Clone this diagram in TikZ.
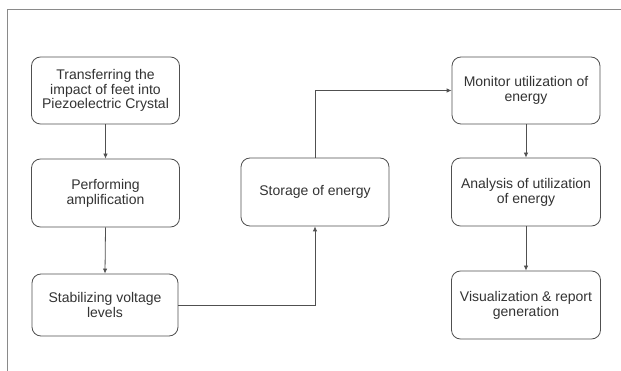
\documentclass[tikz,border=0pt]{standalone}
\usepackage{fontspec}
\setmainfont{Liberation Sans}
\usetikzlibrary{arrows.meta}
\definecolor{txt}{HTML}{333333}
\definecolor{ln}{HTML}{505050}
\definecolor{frm}{HTML}{8A8A8A}
\begin{document}
\begin{tikzpicture}[x=1pt,y=-1pt,
  box/.style={draw=ln, line width=0.8pt, rounded corners=9pt, align=center,
    text=txt, font=\fontsize{14}{14.8}\selectfont, inner sep=0pt},
  conn/.style={draw=ln, line width=0.8pt, -{Latex[length=5pt,width=4.5pt]}}]
\useasboundingbox (0,0) rectangle (621,371);
\fill[white] (0,0) rectangle (621,371);
\draw[frm, line width=1pt] (7,371) -- (7,9.5) -- (621,9.5);
\node[box, minimum width=148pt, minimum height=67pt] (b1) at (105.5,90.5)
  {Transferring the\\impact of feet into\\Piezoelectric Crystal};
\node[box, minimum width=148pt, minimum height=68pt] (b2) at (105.5,193)
  {Performing\\amplification};
\node[box, minimum width=146pt, minimum height=62pt] (b3) at (105,305)
  {Stabilizing voltage\\levels};
\node[box, minimum width=148pt, minimum height=68pt] (s) at (315,192)
  {Storage of energy};
\node[box, minimum width=148pt, minimum height=67pt] (m) at (526,90.5)
  {Monitor utilization of\\energy};
\node[box, minimum width=149pt, minimum height=68pt] (a) at (526,192)
  {Analysis of utilization\\of energy};
\node[box, minimum width=149pt, minimum height=68pt] (v) at (526,305)
  {Visualization \& report\\generation};
\draw[conn] (b1.south) -- (b2.north);
\draw[conn] (b2.south) -- (b3.north);
\draw[conn] (b3.east) -| (s.south);
\draw[conn] (s.north) |- (m.west);
\draw[conn] (m.south) -- (a.north);
\draw[conn] (a.south) -- (v.north);
\end{tikzpicture}
\end{document}
